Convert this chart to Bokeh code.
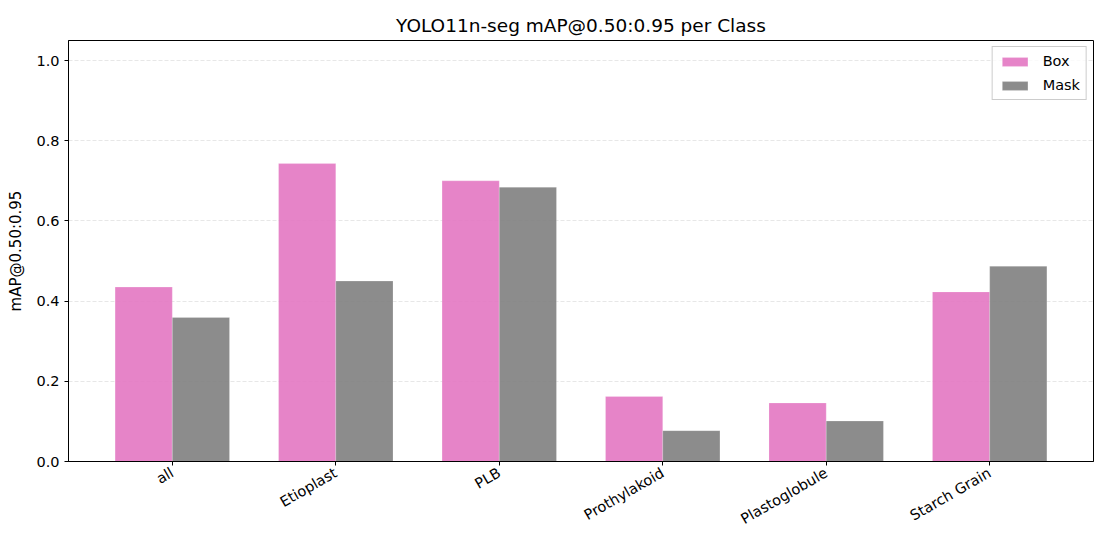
from math import pi
from bokeh.plotting import figure
from bokeh.models import ColumnDataSource, FixedTicker, NumeralTickFormatter, Range1d, Legend, LegendItem
from bokeh.embed import file_html
from bokeh.resources import INLINE

classes = ["all", "Etioplast", "PLB", "Prothylakoid", "Plastoglobule", "Starch Grain"]
box_map = [0.435, 0.743, 0.700, 0.162, 0.146, 0.423]
mask_map = [0.359, 0.450, 0.684, 0.077, 0.101, 0.487]
y_ticks = [0.0, 0.2, 0.4, 0.6, 0.8, 1.0]

bar_w = 0.35
idx = list(range(len(classes)))
src = ColumnDataSource(dict(
    xb=[i - bar_w / 2 for i in idx],
    xm=[i + bar_w / 2 for i in idx],
    box=box_map, mask=mask_map,
))

FONT = "DejaVu Sans"
p = figure(width=1094, height=536, output_backend="svg", toolbar_location=None,
           title="YOLO11n-seg mAP@0.50:0.95 per Class",
           x_range=Range1d(-0.635, 5.635), y_range=Range1d(0, 1.05),
           min_border_left=68, min_border_right=1, min_border_top=40, min_border_bottom=0)

p.title.align = "center"
p.title.text_font = FONT
p.title.text_font_size = "18.5px"
p.title.text_font_style = "normal"
p.title.text_color = "#000000"
p.title.standoff = 9

rb = p.vbar(x="xb", top="box", width=bar_w, source=src, fill_color="#e377c2", fill_alpha=0.9,
            line_color="white", line_alpha=0.4, line_width=0.5)
rm = p.vbar(x="xm", top="mask", width=bar_w, source=src, fill_color="#7f7f7f", fill_alpha=0.9,
            line_color="white", line_alpha=0.4, line_width=0.5)

legend = Legend(items=[LegendItem(label="Box", renderers=[rb]), LegendItem(label="Mask", renderers=[rm])],
                location="top_right", label_text_font=FONT, label_text_font_size="14.5px",
                label_text_color="#000000",
                border_line_color="#cccccc", border_line_alpha=1.0, background_fill_alpha=0.8,
                glyph_width=32, glyph_height=11, spacing=8, padding=6, margin=6, label_standoff=12)
p.add_layout(legend)

p.xaxis.ticker = FixedTicker(ticks=idx)
p.xaxis.major_label_overrides = {i: c for i, c in zip(idx, classes)}
p.xaxis.major_label_orientation = pi / 6
p.xaxis.major_label_standoff = 6
p.yaxis.ticker = FixedTicker(ticks=y_ticks)
p.yaxis.formatter = NumeralTickFormatter(format="0.0")
p.yaxis.axis_label = "mAP@0.50:0.95"

for ax in (p.xaxis, p.yaxis):
    ax.major_label_text_font = FONT
    ax.major_label_text_font_size = "14.5px"
    ax.major_label_text_color = "#000000"
    ax.axis_line_color = "#000000"
    ax.major_tick_line_color = "#000000"
    ax.major_tick_out = 4
    ax.major_tick_in = 0
    ax.minor_tick_line_color = None
p.yaxis.axis_label_text_font = FONT
p.yaxis.axis_label_text_font_size = "15px"
p.yaxis.axis_label_text_font_style = "normal"
p.yaxis.axis_label_text_color = "#000000"
p.yaxis.axis_label_standoff = 8

p.xgrid.grid_line_color = None
p.ygrid.grid_line_color = "#b0b0b0"
p.ygrid.grid_line_alpha = 0.3
p.ygrid.grid_line_dash = "4 2"
p.outline_line_color = "#000000"
p.outline_line_alpha = 1.0

open("out.html", "w").write(file_html(p, INLINE))
